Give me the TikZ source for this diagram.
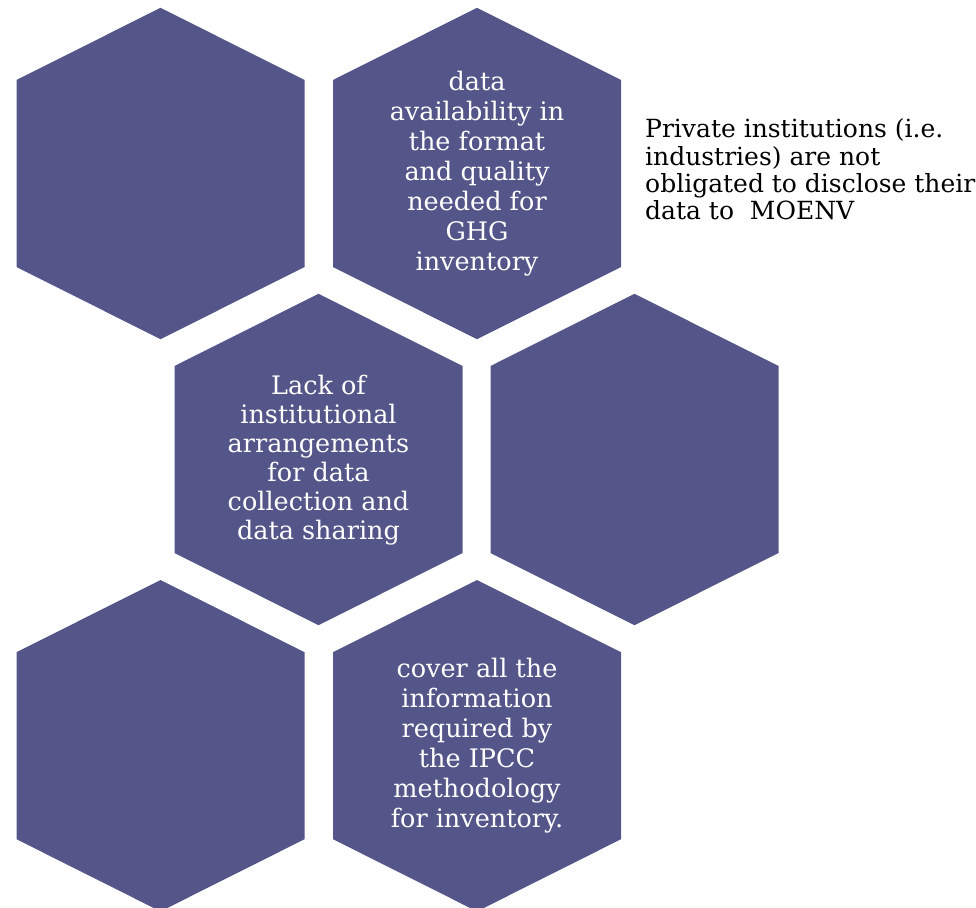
\documentclass[tikz,border=0pt]{standalone}
\usepackage{fontspec}
\setmainfont{DejaVu Serif}
\usetikzlibrary{positioning}
\definecolor{cell1}{HTML}{545589}
\def\hexrise{72.2}
\def\hexside{187}

\begin{document}
\begin{tikzpicture}[x=1pt,y=1pt]
\tikzstyle{cell}=[fill=cell1,draw=none]
\tikzstyle{cell text}=[text=white,align=center,inner sep=0pt,font=\fontsize{25.5}{30}\selectfont]
\tikzstyle{note}=[text=black,align=left,inner sep=0pt,font=\fontsize{25}{27.4}\selectfont]

\useasboundingbox (0,0) rectangle (976,-907);

% Place the hexagon centres, two per row
\foreach \name / \x / \y in {1/160.5/-173.5,2/477/-173.5,3/318.5/-459.5,4/634.5/-459.5,5/160.5/-745.7,6/477/-745.7}
\coordinate (hex-\name) at (\x,\y);

% Fill the hexagons
\foreach \name in {1,...,6}
\fill[cell] (hex-\name) ++(0,165.7) -- ++(-144,-\hexrise) -- ++(0,-\hexside)
  -- ++(144,-\hexrise) -- ++(144,\hexrise) -- ++(0,\hexside) -- cycle;

% Texts inside the cells
\node[cell text] (t-2) at (hex-2) {data\\availability in\\the format\\and quality\\needed for\\GHG\\inventory};
\node[cell text,font=\fontsize{25.5}{29}\selectfont] (t-3) at ([yshift=-1]hex-3) {Lack of\\institutional\\arrangements\\for data\\collection and\\data sharing};
\node[cell text] (t-6) at (hex-6) {cover all the\\information\\required by\\the IPCC\\methodology\\for inventory.};

% Note on the right
\node[note,anchor=north west] (note) at (645,-118.5) {Private institutions (i.e.\\industries) are not\\obligated to disclose their\\data to\ \ MOENV};
\end{tikzpicture}
\end{document}
